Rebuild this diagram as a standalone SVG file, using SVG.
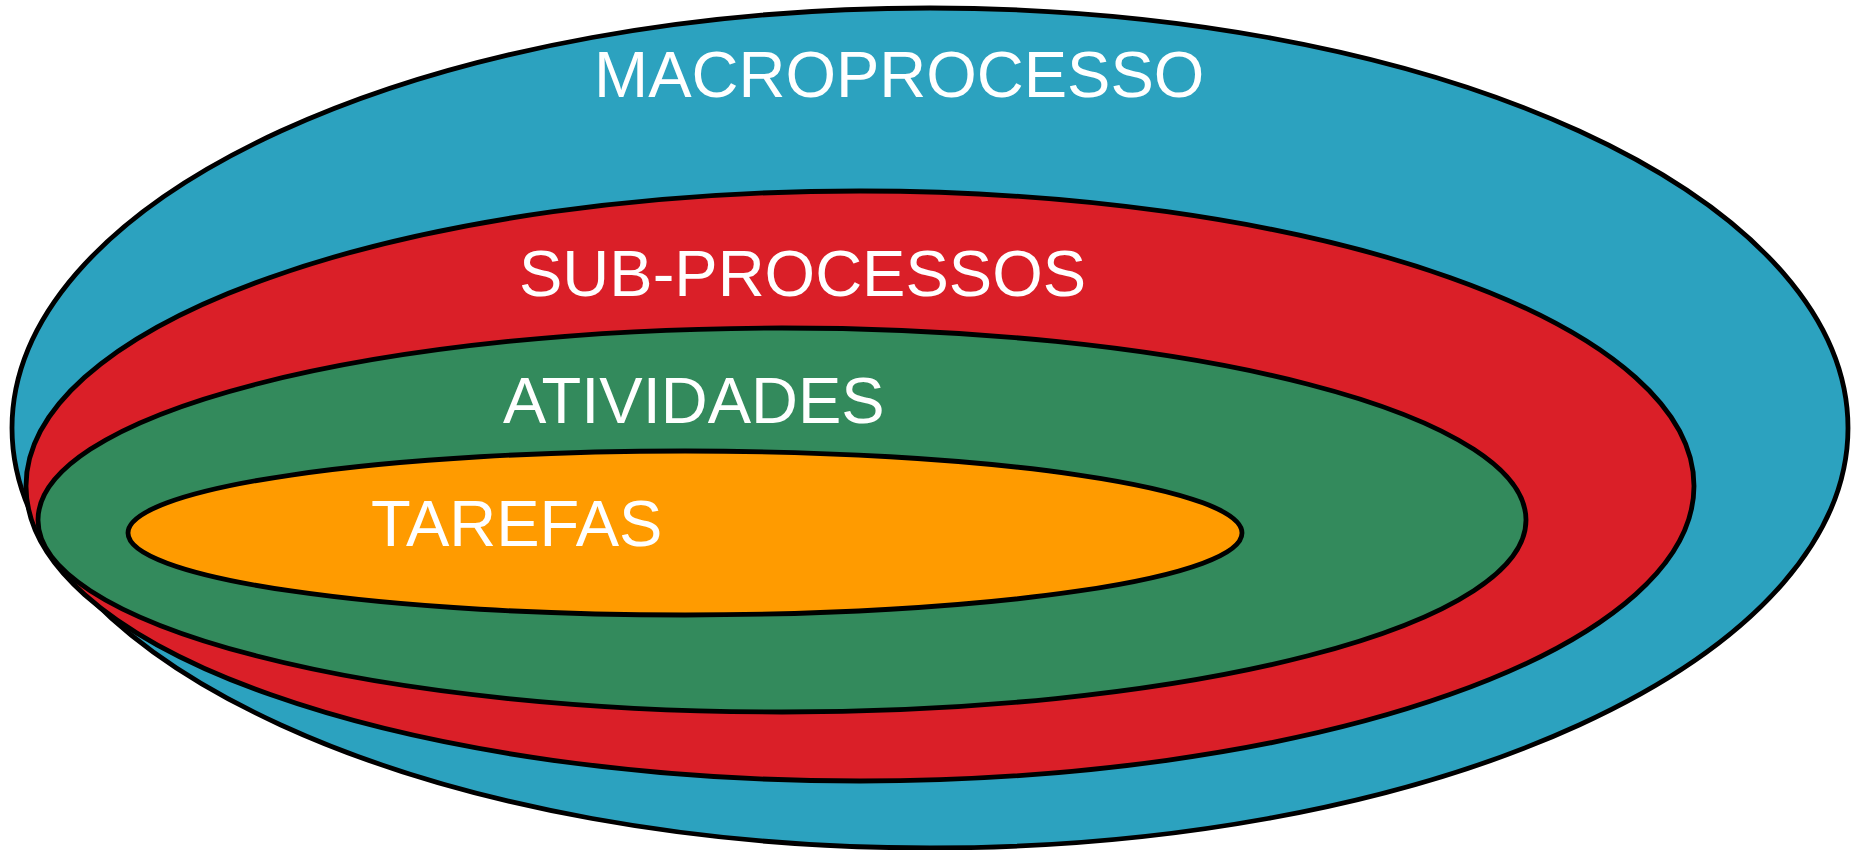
<svg xmlns="http://www.w3.org/2000/svg" width="1857" height="850" viewBox="0 0 1857 850">
<style>
.e{stroke:#000;stroke-width:4.8}
.t{font-family:"Liberation Sans",Arial,sans-serif;font-size:65px;fill:#fff}
</style>
<rect width="1857" height="850" fill="#fff"/>
<g id="macroprocesso">
<ellipse class="e" cx="930" cy="428" rx="918" ry="420" fill="#2CA2BF"/>
<text class="t" x="594" y="97">MACROPROCESSO</text>
</g>
<g id="subprocessos">
<ellipse class="e" cx="860" cy="486" rx="834" ry="295" fill="#DA1F28"/>
<text class="t" x="519" y="296">SUB-PROCESSOS</text>
</g>
<g id="atividades">
<ellipse class="e" cx="782" cy="520" rx="744" ry="192" fill="#338A5C"/>
<text class="t" x="503" y="423">ATIVIDADES</text>
</g>
<g id="tarefas">
<ellipse class="e" cx="685" cy="533" rx="557" ry="82" fill="#FF9B00"/>
<text class="t" x="371" y="546">TAREFAS</text>
</g>
<g id="connectors"/>
</svg>
